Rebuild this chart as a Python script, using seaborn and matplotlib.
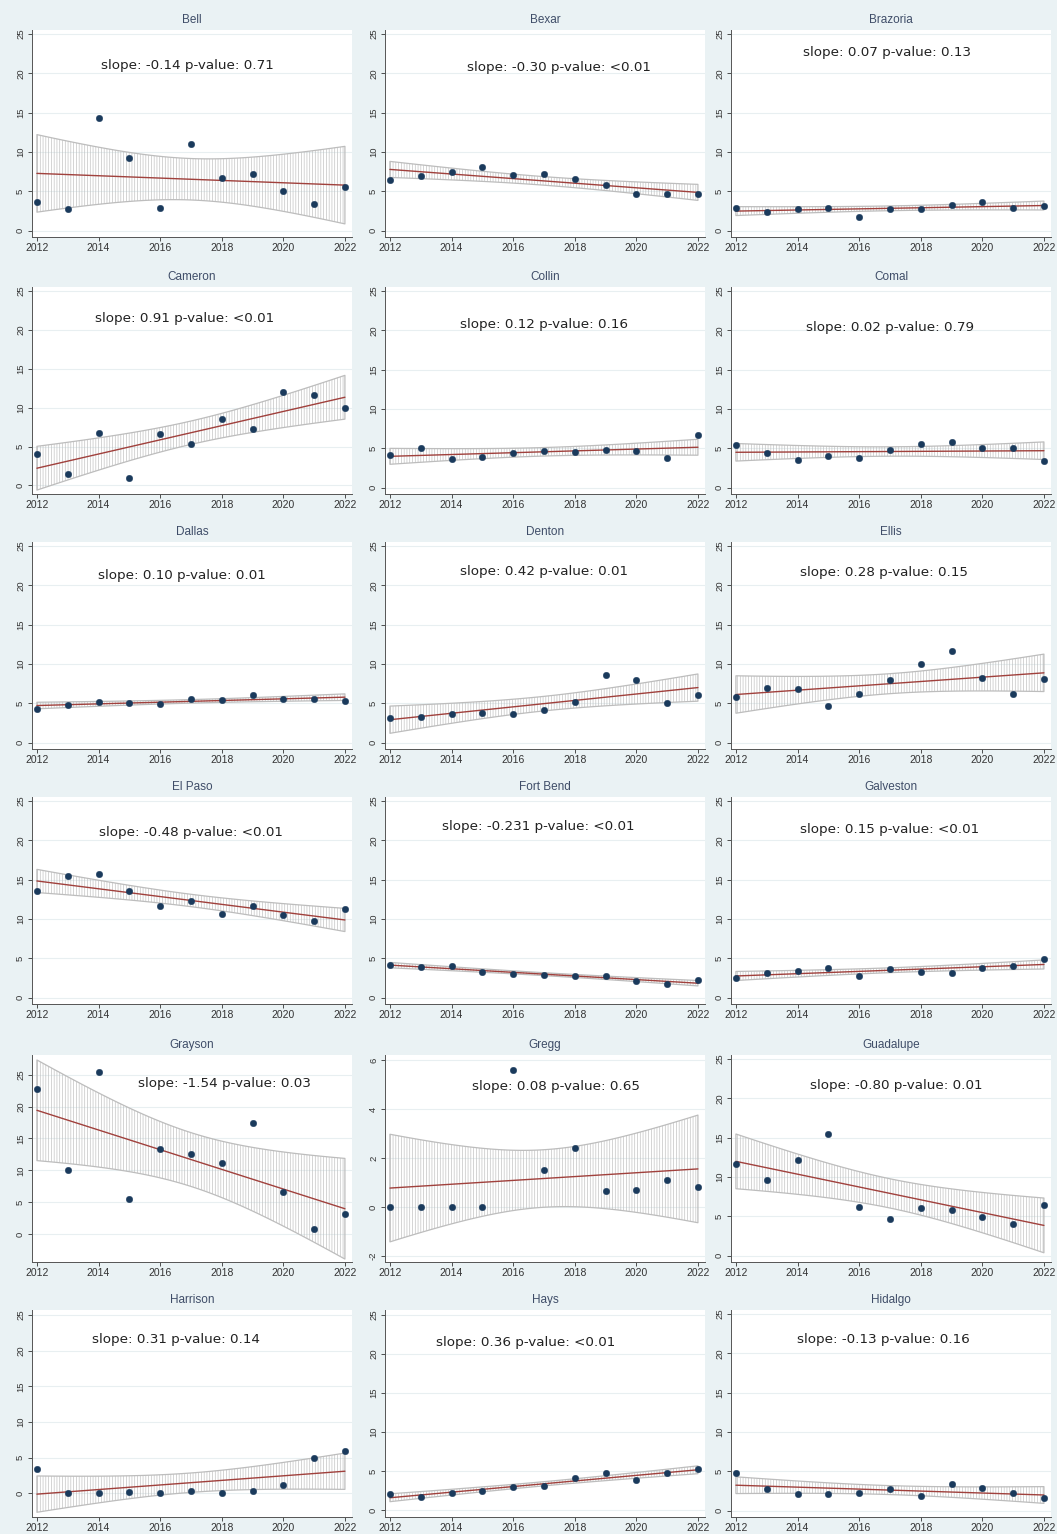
import numpy as np
import matplotlib
matplotlib.use("Agg")
import matplotlib.pyplot as plt
import seaborn as sns

# ---------------- data ----------------
years = [2012, 2013, 2014, 2015, 2016, 2017, 2018, 2019, 2020, 2021, 2022]

counties = ["Bell", "Bexar", "Brazoria",
            "Cameron", "Collin", "Comal",
            "Dallas", "Denton", "Ellis",
            "El Paso", "Fort Bend", "Galveston",
            "Grayson", "Gregg", "Guadalupe",
            "Harrison", "Hays", "Hidalgo"]

bell      = [3.7, 2.8, 14.3, 9.3, 2.9, 11.0, 6.7, 7.2, 5.0, 3.4, 5.6]
bexar     = [6.5, 7.0, 7.4, 8.1, 7.1, 7.2, 6.6, 5.8, 4.6, 4.6, 4.7]
brazoria  = [2.9, 2.4, 2.7, 2.9, 1.8, 2.8, 2.8, 3.3, 3.7, 2.9, 3.1]
cameron   = [4.0, 1.5, 6.8, 1.0, 6.6, 5.3, 8.5, 7.2, 12.0, 11.6, 10.0]
collin    = [4.1, 5.1, 3.6, 3.9, 4.4, 4.7, 4.5, 4.8, 4.6, 3.8, 6.7]
comal     = [5.4, 4.4, 3.5, 4.0, 3.8, 4.8, 5.5, 5.8, 5.0, 5.0, 3.4]
dallas    = [4.3, 4.8, 5.2, 5.1, 4.9, 5.6, 5.4, 6.0, 5.6, 5.6, 5.3]
denton    = [3.2, 3.3, 3.7, 3.8, 3.6, 4.2, 5.2, 8.6, 8.0, 5.0, 6.0]
ellis     = [5.8, 7.0, 6.8, 4.6, 6.2, 8.0, 10.0, 11.6, 8.2, 6.2, 8.1]
el_paso   = [13.6, 15.4, 15.7, 13.5, 11.6, 12.3, 10.6, 11.7, 10.5, 9.7, 11.3]
fort_bend = [4.2, 3.9, 4.0, 3.3, 3.0, 2.9, 2.7, 2.8, 2.1, 1.7, 2.3]
galveston = [2.5, 3.1, 3.4, 3.8, 2.8, 3.6, 3.3, 3.2, 3.8, 4.0, 4.9]
grayson   = [22.7, 10.0, 25.5, 5.5, 13.4, 12.5, 11.1, 17.4, 6.6, 0.8, 3.1]
gregg     = [0.0, 0.0, 0.0, 0.0, 5.6, 1.5, 2.4, 0.65, 0.7, 1.1, 0.8]
guadalupe = [11.7, 9.6, 12.1, 15.5, 6.2, 4.7, 6.1, 5.8, 4.9, 4.0, 6.5]
harrison  = [3.4, 0.1, 0.1, 0.2, 0.1, 0.3, 0.0, 0.4, 1.2, 4.9, 5.9]
hays      = [2.0, 1.6, 2.2, 2.4, 3.0, 3.1, 4.1, 4.7, 3.8, 4.7, 5.3]
hidalgo   = [4.8, 2.8, 2.1, 2.1, 2.2, 2.8, 1.9, 3.4, 2.9, 2.2, 1.6]

series = [bell, bexar, brazoria, cameron, collin, comal, dallas, denton, ellis,
          el_paso, fort_bend, galveston, grayson, gregg, guadalupe,
          harrison, hays, hidalgo]

slope_labels = ["-0.14", "-0.30", "0.07", "0.91", "0.12", "0.02",
                "0.10", "0.42", "0.28", "-0.48", "-0.231", "0.15",
                "-1.54", "0.08", "-0.80", "0.31", "0.36", "-0.13"]
pvalue_labels = ["0.71", "<0.01", "0.13", "<0.01", "0.16", "0.79",
                 "0.01", "0.01", "0.15", "<0.01", "<0.01", "<0.01",
                 "0.03", "0.65", "0.01", "0.14", "<0.01", "0.16"]

default_yticks = [0, 5, 10, 15, 20, 25]
gregg_yticks = [-2, 0, 2, 4, 6]

# ---------------- layout / style ----------------
annot_pos = [(2016.9, 21.0), (2017.5, 20.7), (2016.9, 22.7),
             (2016.8, 21.5), (2017.0, 20.7), (2017.0, 20.4),
             (2016.7, 21.3), (2017.0, 21.8), (2016.8, 21.6),
             (2017.0, 21.0), (2016.8, 21.8), (2017.0, 21.4),
             (2018.1, 23.6), (2017.4, 4.9), (2017.2, 21.6),
             (2016.5, 21.5), (2016.4, 21.5), (2016.8, 21.7)]

ylims = [(-0.8, 25.5), (-0.8, 25.5), (-0.8, 25.5),
         (-1.1, 25.5), (-0.8, 25.5), (-0.8, 25.5),
         (-0.8, 25.5), (-0.8, 25.5), (-0.8, 25.5),
         (-0.8, 25.5), (-0.8, 25.5), (-0.8, 25.5),
         (-4.4, 28.1), (-2.25, 6.2), (-0.8, 25.5),
         (-3.3, 25.7), (-0.9, 25.6), (-0.8, 25.5)]

BG = "#eaf2f4"
NAVY = "#1a3a5c"
RED = "#a0403c"
BAND = "#bdbdbd"
TITLE_C = "#3f4d68"
TICK_C = "#333333"

sns.set_theme(style="white")
plt.rcParams['font.family'] = ['Liberation Sans', 'DejaVu Sans']
plt.rcParams['hatch.linewidth'] = 0.45
plt.rcParams['hatch.color'] = BAND

W, H = 1057, 1534
fig = plt.figure(figsize=(W / 100, H / 100), dpi=100, facecolor=BG)

col_left = [32, 385, 731]
row_top = [30, 287, 542, 797, 1055, 1310]
pw, ph = 320, 207

x = np.array(years, dtype=float)
n = len(x)
xm = x.mean()
sxx = ((x - xm) ** 2).sum()
tcrit = 2.262  # t(0.975, df=9)
xx = np.linspace(x.min(), x.max(), 200)

for i, (name, vals) in enumerate(zip(counties, series)):
    r, c = divmod(i, 3)
    left, top = col_left[c], row_top[r]
    ax = fig.add_axes([left / W, 1 - (top + ph) / H, pw / W, ph / H])
    ax.set_facecolor("white")
    y = np.array(vals, dtype=float)

    b, a = np.polyfit(x, y, 1)
    fit = a + b * xx
    resid = y - (a + b * x)
    s = np.sqrt((resid ** 2).sum() / (n - 2))
    se = s * np.sqrt(1 / n + (xx - xm) ** 2 / sxx)
    lo, hi = fit - tcrit * se, fit + tcrit * se

    ax.fill_between(xx, lo, hi, facecolor="none", edgecolor=BAND,
                    hatch="||||||", linewidth=0.9, zorder=1)
    ax.plot(xx, fit, color=RED, lw=1.0, zorder=2)
    sns.scatterplot(x=years, y=vals, ax=ax, color=NAVY, s=22,
                    edgecolor=NAVY, linewidth=0.3, zorder=3, legend=False)

    ax.set_xlim(2011.84, 2022.23)
    ax.set_ylim(*ylims[i])
    yt = gregg_yticks if name == "Gregg" else default_yticks
    ax.set_yticks(yt)
    ax.set_yticklabels([str(v) for v in yt], rotation=90, va="center")
    ax.set_xticks([2012, 2014, 2016, 2018, 2020, 2022])
    ax.yaxis.grid(True, color="#e8eff1", lw=0.8)
    ax.set_axisbelow(True)
    ax.tick_params(axis="y", labelsize=6.8, colors=TICK_C, length=3,
                   width=0.6, direction="out", left=True, pad=2)
    ax.tick_params(axis="x", labelsize=7.5, colors=TICK_C, length=3,
                   width=0.6, direction="out", bottom=True, pad=1.5)
    for sp in ["top", "right"]:
        ax.spines[sp].set_visible(False)
    for sp in ["left", "bottom"]:
        ax.spines[sp].set_color("#555555")
        ax.spines[sp].set_linewidth(0.7)
    ax.set_xlabel("")
    ax.set_ylabel("")

    tx, ty = annot_pos[i]
    ax.text(tx, ty, f"slope: {slope_labels[i]} p-value: {pvalue_labels[i]}",
            ha="center", va="center", fontsize=9.7, family="DejaVu Sans",
            color="#222222", zorder=4)

    fig.text((left + pw / 2) / W, 1 - (top - 10) / H, name, ha="center",
             va="center", fontsize=8.5, color=TITLE_C)

fig.savefig("out.png", dpi=100, facecolor=BG)
